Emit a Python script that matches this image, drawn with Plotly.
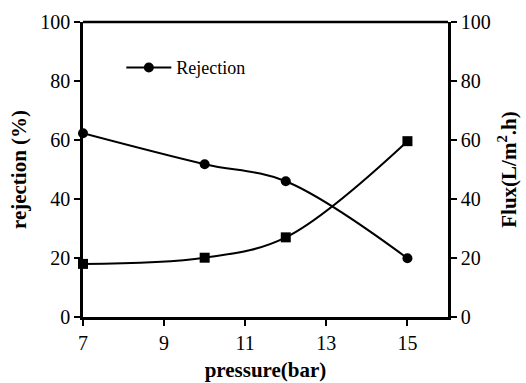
import plotly.graph_objects as go

pressure = [7, 10, 12, 15]
rejection = [62.3, 51.8, 46.0, 19.9]
flux = [18.0, 20.1, 27.0, 59.6]
x_ticks = [7, 9, 11, 13, 15]
y_ticks = [0, 20, 40, 60, 80, 100]

FONT = "Times New Roman, Liberation Serif, serif"

fig = go.Figure()
fig.add_trace(go.Scatter(
    x=pressure, y=rejection, name="Rejection", mode="lines+markers",
    line=dict(color="black", width=2, shape="spline", smoothing=1),
    marker=dict(symbol="circle", size=10, color="black"),
    cliponaxis=False, showlegend=True))
fig.add_trace(go.Scatter(
    x=pressure, y=flux, name="Flux", mode="lines+markers",
    line=dict(color="black", width=2, shape="spline", smoothing=1),
    marker=dict(symbol="square", size=10, color="black"),
    cliponaxis=False, showlegend=False, yaxis="y2"))

axis_common = dict(showgrid=False, zeroline=False, showline=True, linecolor="black",
                   linewidth=2.5, ticks="outside", ticklen=6, tickwidth=2, tickcolor="black",
                   automargin=False,
                   tickfont=dict(family=FONT, size=20, color="black"))

fig.update_layout(
    width=526, height=383,
    margin=dict(l=83, r=78, t=22, b=66),
    paper_bgcolor="white", plot_bgcolor="white",
    font=dict(family=FONT, color="black"),
    xaxis=dict(range=[7, 16], tickvals=x_ticks, mirror=False,
               title=dict(text="<b>pressure(bar)</b>", font=dict(family=FONT, size=21), standoff=10),
               **axis_common),
    yaxis=dict(range=[0, 100], tickvals=y_ticks,
               title=dict(text="<b>rejection (%)</b>", font=dict(family=FONT, size=21), standoff=8),
               **axis_common),
    yaxis2=dict(range=[0, 100], tickvals=y_ticks, overlaying="y", side="right",
                title=dict(text="<b>Flux(L/m<sup>2</sup>.h)</b>", font=dict(family=FONT, size=21), standoff=12),
                **axis_common),
    legend=dict(x=0.105, y=0.845, xanchor="left", yanchor="middle", itemwidth=45,
                bgcolor="rgba(0,0,0,0)", font=dict(family=FONT, size=18, color="black")),
    shapes=[dict(type="line", xref="paper", yref="paper", x0=0, x1=1, y0=1, y1=1,
                 line=dict(color="black", width=2.5))],
)

fig.write_html("out.html")
